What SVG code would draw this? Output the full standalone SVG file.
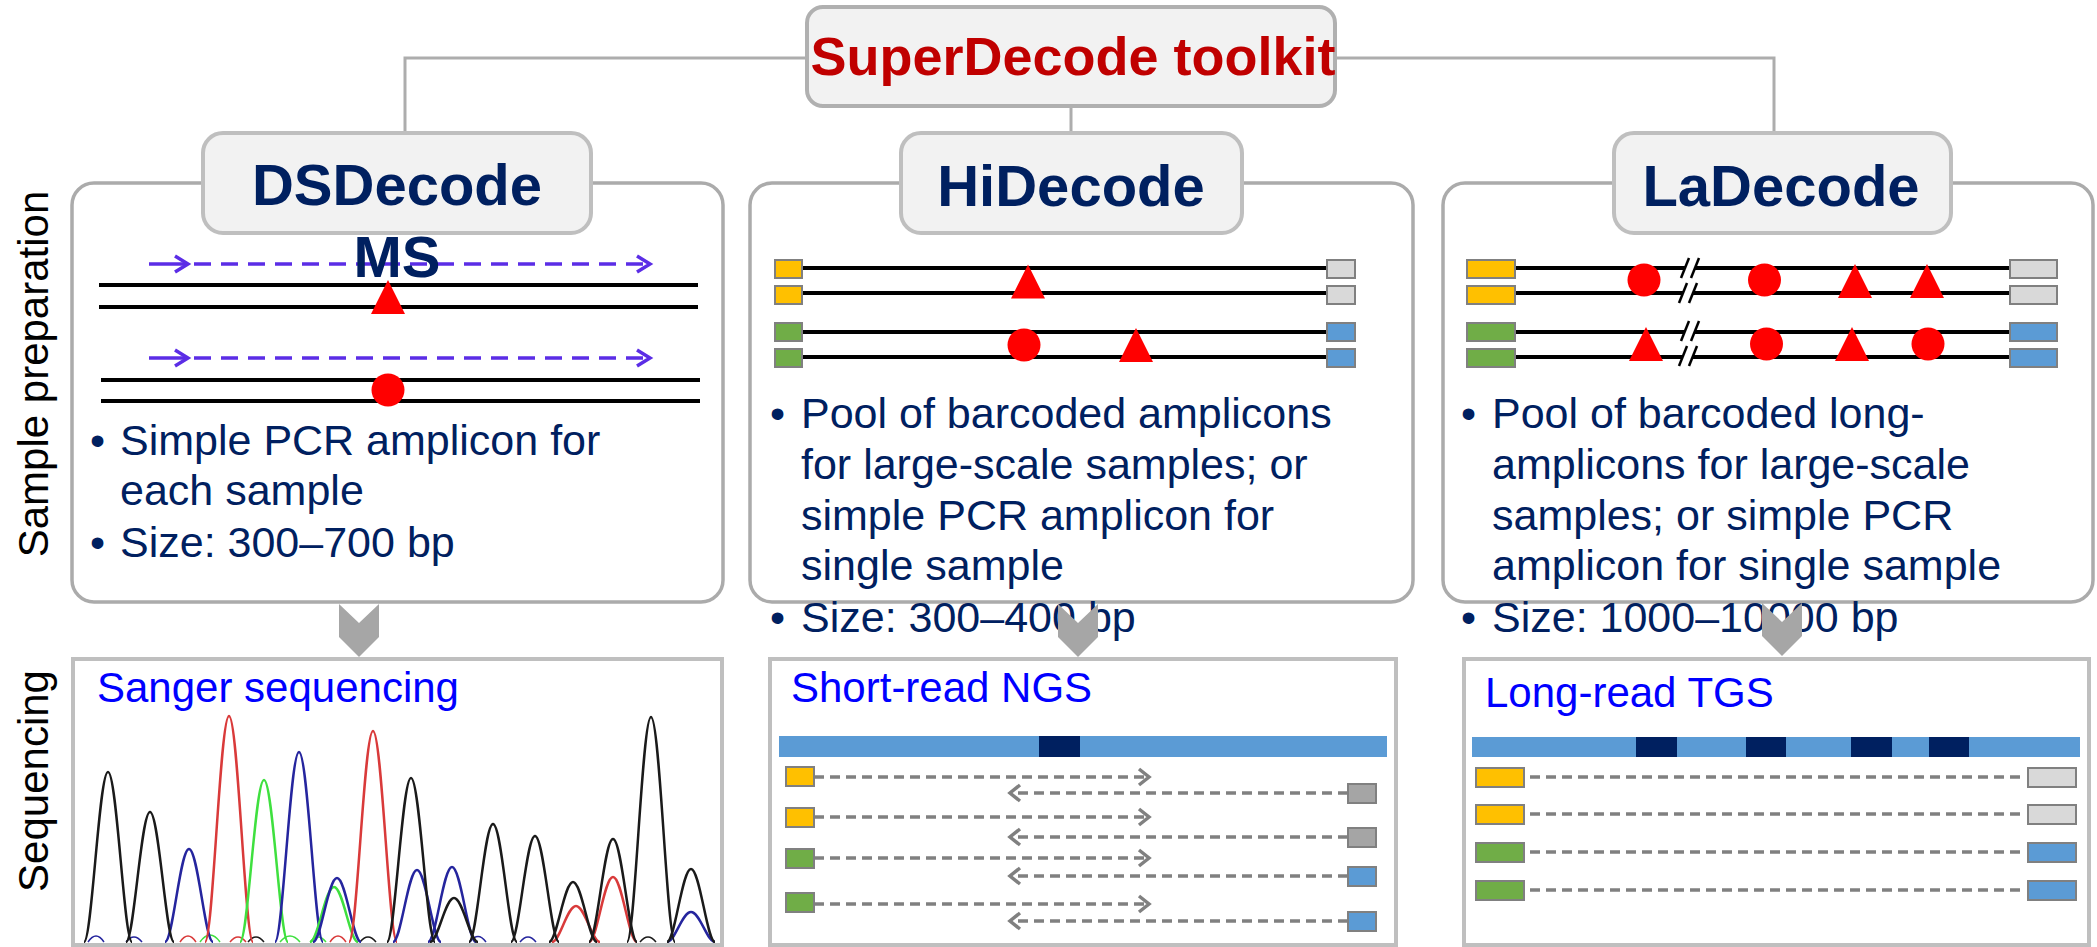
<svg xmlns="http://www.w3.org/2000/svg" width="2097" height="947" viewBox="0 0 2097 947">
<style>
text{font-family:"Liberation Sans",Arial,Helvetica,sans-serif}
.hdr{fill:#F2F2F2;stroke:#BFBFBF;stroke-width:4}
.panel{fill:#fff;stroke:#ABABAB;stroke-width:3.5}
.seqbox{fill:#fff;stroke:#BFBFBF;stroke-width:4}
.htxt{font-size:58px;font-weight:bold;fill:#002060;text-anchor:middle}
.body{font-size:43px;fill:#002060}
.side{font-size:42px;fill:#000;text-anchor:middle}
.seqt{font-size:42px;fill:#0000FF}
.conn{stroke:#ADADAD;stroke-width:3;fill:none}
.chev{fill:#A6A6A6}
.dna{stroke:#000;stroke-width:4}
.red{fill:#FF0000}
.pur{stroke:#5B2DE6;stroke-width:3.5;fill:none}
.purd{stroke:#5B2DE6;stroke-width:3.5;stroke-dasharray:17 10;fill:none}
.bc{stroke:#808080;stroke-width:2}
.y{fill:#FFC000}.g{fill:#70AD47}.lg{fill:#D9D9D9}.b{fill:#5B9BD5}.gr{fill:#A5A5A5}
.rd{stroke:#808080;stroke-width:3.5;stroke-dasharray:10 6;fill:none}
.ah{stroke:#808080;stroke-width:3.5;fill:none}
.pk{fill:none;stroke-width:2.5}
.nz{fill:none;stroke-width:1.5}
.k{stroke:#1A1A1A}.bl{stroke:#25259E}.r{stroke:#D93A3A}.gn{stroke:#3FE03F}
</style>
<defs>
<path id="tri" d="M0,-17 L17,17 L-17,17 Z"/>
<g id="brk"><polygon points="-9,10 -1,-10 9,-10 1,10" fill="#fff"/><line x1="-9" y1="10" x2="-1" y2="-10" stroke="#000" stroke-width="2.5"/><line x1="1" y1="10" x2="9" y2="-10" stroke="#000" stroke-width="2.5"/></g>
<clipPath id="chromClip"><rect x="76" y="700" width="643" height="243"/></clipPath>
</defs>

<g id="side-labels">
<text class="side" transform="translate(48,374) rotate(-90)">Sample preparation</text>
<text class="side" transform="translate(48,781) rotate(-90)">Sequencing</text>
</g>

<g id="connectors">
<polyline class="conn" points="807,58 405,58 405,133"/>
<polyline class="conn" points="1335,58 1774,58 1774,133"/>
<line class="conn" x1="1071" y1="106" x2="1071" y2="133"/>
</g>

<g id="superdecode">
<rect x="807" y="7" width="528" height="99" rx="16" class="hdr" style="stroke:#B0B0B0"/>
<text x="1073" y="75" style="font-size:54px;font-weight:bold;fill:#C00000;text-anchor:middle">SuperDecode toolkit</text>
</g>

<g id="dsdecode">
<rect x="72" y="183" width="651" height="419" rx="22" class="panel"/>
<rect x="203" y="133" width="388" height="100" rx="20" class="hdr"/>
<text x="397" y="205" class="htxt">DSDecode</text>
<line class="dna" x1="99" y1="285" x2="698" y2="285"/>
<line class="dna" x1="99" y1="307" x2="698" y2="307"/>
<line class="dna" x1="101" y1="380" x2="700" y2="380"/>
<line class="dna" x1="101" y1="401" x2="700" y2="401"/>
<line class="pur" x1="149" y1="264" x2="188" y2="264"/>
<polyline class="pur" points="175,256 188,264 175,272"/>
<line class="purd" x1="194" y1="264" x2="648" y2="264"/>
<polyline class="pur" points="637,256 650,264 637,272"/>
<line class="pur" x1="149" y1="358" x2="188" y2="358"/>
<polyline class="pur" points="175,350 188,358 175,366"/>
<line class="purd" x1="194" y1="358" x2="648" y2="358"/>
<polyline class="pur" points="637,350 650,358 637,366"/>
<text x="397" y="277" class="htxt">MS</text>
<use href="#tri" class="red" x="388" y="297"/>
<circle class="red" cx="388" cy="390" r="16.5"/>
<text class="body" x="90" y="455">•</text>
<text class="body" x="120" y="455">Simple PCR amplicon for</text>
<text class="body" x="120" y="505">each sample</text>
<text class="body" x="90" y="557">•</text>
<text class="body" x="120" y="557">Size: 300–700 bp</text>
</g>

<g id="hidecode">
<rect x="750" y="183" width="663" height="419" rx="22" class="panel"/>
<rect x="901" y="133" width="341" height="100" rx="20" class="hdr"/>
<text x="1071" y="206" class="htxt">HiDecode</text>
<line class="dna" x1="802" y1="268" x2="1327" y2="268"/>
<line class="dna" x1="802" y1="293" x2="1327" y2="293"/>
<line class="dna" x1="802" y1="332" x2="1327" y2="332"/>
<line class="dna" x1="802" y1="357" x2="1327" y2="357"/>
<rect class="y bc" x="775" y="260" width="27" height="18"/>
<rect class="y bc" x="775" y="286" width="27" height="18"/>
<rect class="g bc" x="775" y="323" width="27" height="18"/>
<rect class="g bc" x="775" y="349" width="27" height="18"/>
<rect class="lg bc" x="1327" y="260" width="28" height="18"/>
<rect class="lg bc" x="1327" y="286" width="28" height="18"/>
<rect class="b bc" x="1327" y="323" width="28" height="18"/>
<rect class="b bc" x="1327" y="349" width="28" height="18"/>
<use href="#tri" class="red" x="1028" y="281.5"/>
<circle class="red" cx="1024" cy="345" r="16.5"/>
<use href="#tri" class="red" x="1136" y="345"/>
<text class="body" x="770" y="428">•</text>
<text class="body" x="801" y="428">Pool of barcoded amplicons</text>
<text class="body" x="801" y="479">for large-scale samples; or</text>
<text class="body" x="801" y="530">simple PCR amplicon for</text>
<text class="body" x="801" y="580">single sample</text>
<text class="body" x="770" y="632">•</text>
<text class="body" x="801" y="632">Size: 300–400 bp</text>
</g>

<g id="ladecode">
<rect x="1443" y="183" width="650" height="419" rx="22" class="panel"/>
<rect x="1614" y="133" width="337" height="100" rx="20" class="hdr"/>
<text x="1781" y="206" class="htxt">LaDecode</text>
<line class="dna" x1="1515" y1="268" x2="2010" y2="268"/>
<line class="dna" x1="1515" y1="293" x2="2010" y2="293"/>
<line class="dna" x1="1515" y1="332" x2="2010" y2="332"/>
<line class="dna" x1="1515" y1="357" x2="2010" y2="357"/>
<use href="#brk" x="1690" y="268"/>
<use href="#brk" x="1688" y="293"/>
<use href="#brk" x="1690" y="331"/>
<use href="#brk" x="1688" y="356"/>
<rect class="y bc" x="1467" y="260" width="48" height="18"/>
<rect class="y bc" x="1467" y="286" width="48" height="18"/>
<rect class="g bc" x="1467" y="323" width="48" height="18"/>
<rect class="g bc" x="1467" y="349" width="48" height="18"/>
<rect class="lg bc" x="2010" y="260" width="47" height="18"/>
<rect class="lg bc" x="2010" y="286" width="47" height="18"/>
<rect class="b bc" x="2010" y="323" width="47" height="18"/>
<rect class="b bc" x="2010" y="349" width="47" height="18"/>
<circle class="red" cx="1644" cy="280" r="16.5"/>
<circle class="red" cx="1764.5" cy="280" r="16.5"/>
<use href="#tri" class="red" x="1855" y="281"/>
<use href="#tri" class="red" x="1927" y="281"/>
<use href="#tri" class="red" x="1646" y="344"/>
<circle class="red" cx="1766.5" cy="344" r="16.5"/>
<use href="#tri" class="red" x="1852" y="344"/>
<circle class="red" cx="1928" cy="344" r="16.5"/>
<text class="body" x="1461" y="428">•</text>
<text class="body" x="1492" y="428">Pool of barcoded long-</text>
<text class="body" x="1492" y="479">amplicons for large-scale</text>
<text class="body" x="1492" y="530">samples; or simple PCR</text>
<text class="body" x="1492" y="580">amplicon for single sample</text>
<text class="body" x="1461" y="632">•</text>
<text class="body" x="1492" y="632">Size: 1000–10000 bp</text>
</g>

<g id="stage-arrows">
<polygon class="chev" points="339,604 359,623 379,604 379,637 359,657 339,637"/>
<polygon class="chev" points="1058,604 1078,623 1098,604 1098,637 1078,657 1058,637"/>
<polygon class="chev" points="1762,603 1782,622 1802,603 1802,636 1782,656 1762,636"/>
</g>

<g id="sanger">
<rect x="73" y="659" width="649" height="286" class="seqbox"/>
<text class="seqt" x="97" y="702">Sanger sequencing</text>
<g clip-path="url(#chromClip)">
<path class="nz bl" d="M88,942 Q96,930 104,942 M126,942 Q134,932 142,942 M470,942 Q478,931 486,942 M520,942 Q528,932 536,942"/>
<path class="nz r" d="M180,942 Q188,930 196,942 M230,942 Q238,932 246,942 M330,942 Q338,930 346,942"/>
<path class="nz gn" d="M200,942 Q210,928 220,942 M280,942 Q290,930 300,942 M310,942 Q318,932 326,942"/>
<path class="nz k" d="M248,942 Q256,932 264,942 M360,942 Q368,932 376,942 M640,942 Q648,932 656,942"/>
<path class="pk bl" d="M165,942 C173,942 180,849 189,849 C198,849 205,942 213,942"/>
<path class="pk r" d="M205,942 C213,942 220,716 229,716 C238,716 245,942 253,942"/>
<path class="pk gn" d="M240,942 C248,942 255,780 264,780 C273,780 280,942 288,942"/>
<path class="pk bl" d="M275,942 C283,942 290,752 299,752 C308,752 315,942 323,942"/>
<path class="pk gn" d="M310,942 C318,942 325,887 334,887 C343,887 350,942 358,942"/>
<path class="pk bl" d="M313,942 C321,942 328,878 337,878 C346,878 353,942 361,942"/>
<path class="pk r" d="M349,942 C357,942 364,731 373,731 C382,731 389,942 397,942"/>
<path class="pk bl" d="M393,942 C401,942 408,870 417,870 C426,870 433,942 441,942"/>
<path class="pk bl" d="M428,942 C436,942 443,867 452,867 C461,867 468,942 476,942"/>
<path class="pk r" d="M552,942 C560,942 567,906 576,906 C585,906 592,942 600,942"/>
<path class="pk r" d="M589,942 C597,942 604,877 613,877 C622,877 629,942 637,942"/>
<path class="pk bl" d="M667,942 C675,942 682,912 691,912 C700,912 707,942 715,942"/>
<path class="pk k" d="M84,942 C92,942 99,772 108,772 C117,772 124,942 132,942"/>
<path class="pk k" d="M126,942 C134,942 141,812 150,812 C159,812 166,942 174,942"/>
<path class="pk k" d="M387,942 C395,942 402,778 411,778 C420,778 427,942 435,942"/>
<path class="pk k" d="M430,942 C438,942 445,898 454,898 C463,898 470,942 478,942"/>
<path class="pk k" d="M469,942 C477,942 484,824 493,824 C502,824 509,942 517,942"/>
<path class="pk k" d="M511,942 C519,942 526,836 535,836 C544,836 551,942 559,942"/>
<path class="pk k" d="M549,942 C557,942 564,882 573,882 C582,882 589,942 597,942"/>
<path class="pk k" d="M589,942 C597,942 604,839 613,839 C622,839 629,942 637,942"/>
<path class="pk k" d="M627,942 C635,942 642,717 651,717 C660,717 667,942 675,942"/>
<path class="pk k" d="M667,942 C675,942 682,869 691,869 C700,869 707,942 715,942"/>
</g>
</g>

<g id="ngs">
<rect x="770" y="659" width="626" height="286" class="seqbox"/>
<text class="seqt" x="791" y="702">Short-read NGS</text>
<rect x="779" y="736" width="608" height="21" fill="#5B9BD5"/>
<rect x="1039" y="736" width="41" height="21" fill="#002060"/>
<line class="rd" x1="814" y1="777" x2="1148" y2="777"/>
<polyline class="ah" points="1139,769 1149,777 1139,785"/>
<rect class="y bc" x="786" y="767" width="28" height="19"/>
<line class="rd" x1="1348" y1="793" x2="1011" y2="793"/>
<polyline class="ah" points="1020,785 1010,793 1020,801"/>
<rect class="gr bc" x="1348" y="784" width="28" height="19"/>
<line class="rd" x1="814" y1="817" x2="1148" y2="817"/>
<polyline class="ah" points="1139,809 1149,817 1139,825"/>
<rect class="y bc" x="786" y="808" width="28" height="19"/>
<line class="rd" x1="1348" y1="837" x2="1011" y2="837"/>
<polyline class="ah" points="1020,829 1010,837 1020,845"/>
<rect class="gr bc" x="1348" y="828" width="28" height="19"/>
<line class="rd" x1="814" y1="858" x2="1148" y2="858"/>
<polyline class="ah" points="1139,850 1149,858 1139,866"/>
<rect class="g bc" x="786" y="849" width="28" height="19"/>
<line class="rd" x1="1348" y1="876" x2="1011" y2="876"/>
<polyline class="ah" points="1020,868 1010,876 1020,884"/>
<rect class="b bc" x="1348" y="867" width="28" height="19"/>
<line class="rd" x1="814" y1="904" x2="1148" y2="904"/>
<polyline class="ah" points="1139,896 1149,904 1139,912"/>
<rect class="g bc" x="786" y="893" width="28" height="19"/>
<line class="rd" x1="1348" y1="921" x2="1011" y2="921"/>
<polyline class="ah" points="1020,913 1010,921 1020,929"/>
<rect class="b bc" x="1348" y="912" width="28" height="19"/>
</g>

<g id="tgs">
<rect x="1464" y="659" width="625" height="286" class="seqbox"/>
<text class="seqt" x="1485" y="707">Long-read TGS</text>
<rect x="1472" y="737" width="608" height="20" fill="#5B9BD5"/>
<rect x="1636" y="737" width="41" height="20" fill="#002060"/>
<rect x="1746" y="737" width="40" height="20" fill="#002060"/>
<rect x="1851" y="737" width="41" height="20" fill="#002060"/>
<rect x="1929" y="737" width="40" height="20" fill="#002060"/>
<line class="rd" x1="1530" y1="777" x2="2022" y2="777"/>
<line class="rd" x1="1530" y1="814" x2="2022" y2="814"/>
<line class="rd" x1="1530" y1="852" x2="2022" y2="852"/>
<line class="rd" x1="1530" y1="890" x2="2022" y2="890"/>
<rect class="y bc" x="1476" y="768" width="48" height="19"/>
<rect class="y bc" x="1476" y="805" width="48" height="19"/>
<rect class="g bc" x="1476" y="843" width="48" height="19"/>
<rect class="g bc" x="1476" y="881" width="48" height="19"/>
<rect class="lg bc" x="2028" y="768" width="48" height="19"/>
<rect class="lg bc" x="2028" y="805" width="48" height="19"/>
<rect class="b bc" x="2028" y="843" width="48" height="19"/>
<rect class="b bc" x="2028" y="881" width="48" height="19"/>
</g>
</svg>
